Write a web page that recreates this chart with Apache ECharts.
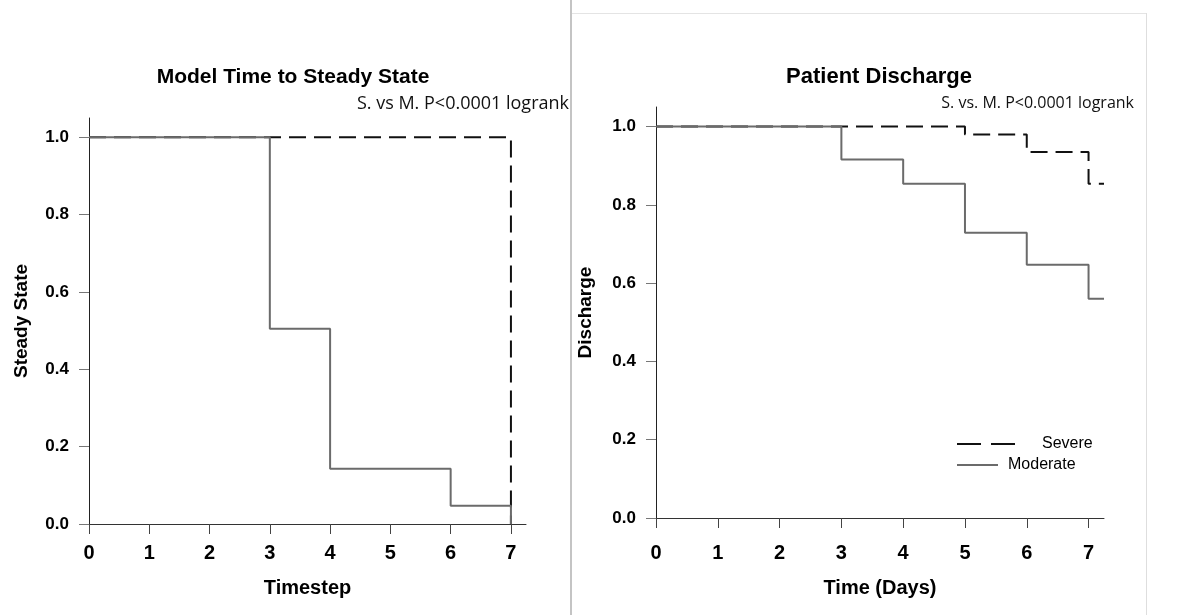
<!DOCTYPE html>
<html><head><meta charset="utf-8">
<script src="https://cdn.jsdelivr.net/npm/echarts@6/dist/echarts.min.js"></script>
<style>html,body{margin:0;padding:0;background:#fff}#c{width:1180px;height:615px}</style>
</head><body><div id="c"></div>
<script>
// ---- data ----
const seriesNames = ['Severe', 'Moderate'];
const leftTimesSevere = [0, 7];
const leftSevere = [1.0, 0.0];
const leftTimesModerate = [0, 3, 4, 6, 7];
const leftModerate = [1.0, 0.505, 0.143, 0.047, 0.0];
const rightTimesSevere = [0, 5, 6, 7, 7.25];
const rightSevere = [1.0, 0.980, 0.935, 0.854, 0.854];
const rightTimesModerate = [0, 3, 4, 5, 6, 7, 7.25];
const rightModerate = [1.0, 0.916, 0.854, 0.729, 0.647, 0.560, 0.560];
const xTickValues = [0, 1, 2, 3, 4, 5, 6, 7];
const yTickValues = [0, 0.2, 0.4, 0.6, 0.8, 1.0];
const titles = ['Model Time to Steady State', 'Patient Discharge'];
const notes = ['S. vs M. P<0.0001 logrank', 'S. vs. M. P<0.0001 logrank'];
const xNames = ['Timestep', 'Time (Days)'];
const yNames = ['Steady State', 'Discharge'];

const pair = (xs, ys) => xs.map((x, i) => [x, ys[i]]);
const BOLD = "'Liberation Sans', Arial, sans-serif";

function xAxis(gi, name, gap, margin) {
  return {
    type: 'value', gridIndex: gi, min: 0, max: 7.25, interval: 1,
    name: name, nameLocation: 'middle', nameGap: gap,
    nameTextStyle: {fontFamily: BOLD, fontWeight: 'bold', fontSize: 20, color: '#000'},
    axisLine: {show: true, onZero: false, lineStyle: {color: '#333', width: 1}},
    axisTick: {show: true, length: 10, customValues: xTickValues, lineStyle: {color: '#444', width: 1}},
    axisLabel: {fontFamily: BOLD, fontWeight: 'bold', fontSize: 20, color: '#000', margin: margin,
      customValues: xTickValues},
    splitLine: {show: false}
  };
}
function yAxis(gi, name, gap) {
  return {
    type: 'value', gridIndex: gi, min: 0, max: 1.05, interval: 0.2,
    name: name, nameLocation: 'middle', nameGap: gap, nameRotate: 90,
    nameTextStyle: {fontFamily: BOLD, fontWeight: 'bold', fontSize: 19, color: '#000'},
    axisLine: {show: true, onZero: false, lineStyle: {color: '#222', width: 1}},
    axisTick: {show: true, length: 10, customValues: yTickValues, lineStyle: {color: '#777', width: 1}},
    axisLabel: {fontFamily: BOLD, fontWeight: 'bold', fontSize: 17, color: '#000', margin: 20,
      customValues: yTickValues, formatter: v => Number(v).toFixed(1)},
    splitLine: {show: false}
  };
}
const severeStyle = {color: '#111', width: 2, type: [17, 8]};
const moderateStyle = {color: '#6b6b6b', width: 2, type: 'solid'};
function line(name, gi, data, style, z) {
  return {
    name: name, type: 'line', xAxisIndex: gi, yAxisIndex: gi, step: 'end',
    data: data, symbol: 'none', showSymbol: false, z: z,
    lineStyle: style, itemStyle: {color: style.color}, emphasis: {disabled: true}
  };
}

const chart = echarts.init(document.getElementById('c'), null, {renderer: 'canvas'});
chart.setOption({
  animation: false,
  backgroundColor: '#fff',
  title: [
    {text: titles[0], left: 293, top: 67, textAlign: 'center', padding: 0,
     textStyle: {fontFamily: BOLD, fontWeight: 'bold', fontSize: 21, color: '#000'}},
    {text: titles[1], left: 879, top: 66, textAlign: 'center', padding: 0,
     textStyle: {fontFamily: BOLD, fontWeight: 'bold', fontSize: 22, color: '#000'}},
    {text: notes[0], left: 569, top: 95, textAlign: 'right', padding: 0,
     textStyle: {fontFamily: "'Open Sans', sans-serif", fontWeight: 'normal', fontSize: 18, color: '#111'}},
    {text: notes[1], left: 1134, top: 95, textAlign: 'right', padding: 0,
     textStyle: {fontFamily: "'Open Sans', sans-serif", fontWeight: 'normal', fontSize: 16, color: '#111'}}
  ],
  legend: [
    {data: [seriesNames[0]], left: 957, top: 436, itemWidth: 58, itemHeight: 2, padding: 0,
     selectedMode: false, icon: 'path://M0,0h24v2h-24zM34,0h24v2h-24z',
     textStyle: {fontFamily: BOLD, fontSize: 16, color: '#000', padding: [0, 0, 0, 22]}},
    {data: [seriesNames[1]], left: 957, top: 457, itemWidth: 41, itemHeight: 2, padding: 0,
     selectedMode: false, icon: 'path://M0,0h41v2h-41z',
     textStyle: {fontFamily: BOLD, fontSize: 16, color: '#000', padding: [0, 0, 0, 5]}}
  ],
  grid: [
    {left: 89, top: 118, width: 437, height: 406},
    {left: 656, top: 107, width: 448, height: 411}
  ],
  xAxis: [xAxis(0, xNames[0], 54, 19), xAxis(1, xNames[1], 60, 25)],
  yAxis: [yAxis(0, yNames[0], 58), yAxis(1, yNames[1], 61)],
  series: [
    line(seriesNames[0], 0, pair(leftTimesSevere, leftSevere), severeStyle, 2),
    line(seriesNames[1], 0, pair(leftTimesModerate, leftModerate), moderateStyle, 3),
    line(seriesNames[0], 1, pair(rightTimesSevere, rightSevere), severeStyle, 2),
    line(seriesNames[1], 1, pair(rightTimesModerate, rightModerate), moderateStyle, 3)
  ],
  graphic: [
    {type: 'line', shape: {x1: 571, y1: 0, x2: 571, y2: 615}, style: {stroke: '#c4c4c4', lineWidth: 2}, silent: true},
    {type: 'line', shape: {x1: 572, y1: 13.5, x2: 1146, y2: 13.5}, style: {stroke: '#e4e4e4', lineWidth: 1}, silent: true},
    {type: 'line', shape: {x1: 1146.5, y1: 13, x2: 1146.5, y2: 615}, style: {stroke: '#dedede', lineWidth: 1}, silent: true}
  ]
});
</script></body></html>
